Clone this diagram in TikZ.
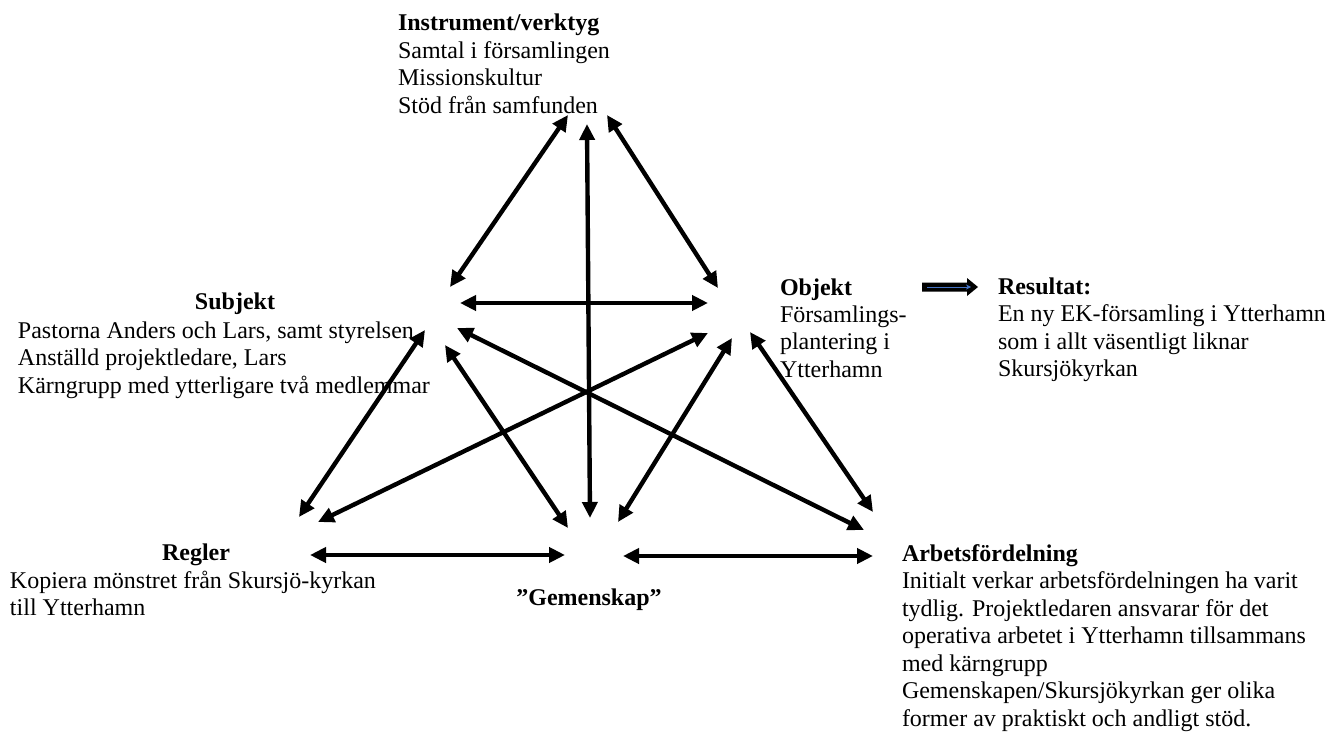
\documentclass[tikz,border=0pt]{standalone}
\usepackage{fontspec}
\setmainfont{Liberation Serif}
\usetikzlibrary{arrows.meta}
\definecolor{wordblue}{RGB}{68,114,196}
\begin{document}
\begin{tikzpicture}[x=0.5pt,y=-0.5pt,
  txt/.style={inner sep=0pt, outer sep=0pt, font=\fontsize{12}{13.75}\selectfont},
  ttl/.style={inner sep=0pt, outer sep=0pt, font=\fontsize{12}{13.75}\selectfont\bfseries},
  link/.style={line width=2.2pt, {Triangle[length=8pt,width=7.5pt]}-{Triangle[length=8pt,width=7.5pt]}}]
\useasboundingbox (0,0) rectangle (1340,733);

% Instrument
\node[ttl, anchor=base west] (inst) at (398,31) {Instrument/verktyg};
\node[txt, anchor=base west] (inst1) at (398,58.5) {Samtal i församlingen};
\node[txt, anchor=base west] (inst2) at (398,86) {Missionskultur};
\node[txt, anchor=base west] (inst3) at (398,113.5) {Stöd från samfunden};

% Subjekt
\node[ttl, anchor=base] (subj) at (235,309) {Subjekt};
\node[txt, anchor=base west] (subj1) at (18,338) {Pastorna Anders och Lars, samt styrelsen};
\node[txt, anchor=base west] (subj2) at (18,365.5) {Anställd projektledare, Lars};
\node[txt, anchor=base west] (subj3) at (18,393) {Kärngrupp med ytterligare två medlemmar};

% Objekt
\node[ttl, anchor=base west] (obj) at (780,295) {Objekt};
\node[txt, anchor=base west] (obj1) at (780,322.5) {Församlings-};
\node[txt, anchor=base west] (obj2) at (780,350) {plantering i};
\node[txt, anchor=base west] (obj3) at (780,377.5) {Ytterhamn};

% Resultat
\node[ttl, anchor=base west] (res) at (998,294) {Resultat:};
\node[txt, anchor=base west] (res1) at (998,321.5) {En ny EK-församling i Ytterhamn};
\node[txt, anchor=base west] (res2) at (998,349) {som i allt väsentligt liknar};
\node[txt, anchor=base west] (res3) at (998,376.5) {Skursjökyrkan};

% Regler
\node[ttl, anchor=base] (regl) at (196,560) {Regler};
\node[txt, anchor=base west] (regl1) at (10,588) {Kopiera mönstret från Skursjö-kyrkan};
\node[txt, anchor=base west] (regl2) at (10,615.5) {till Ytterhamn};

% Gemenskap
\node[ttl, anchor=base] (gem) at (589,605) {”Gemenskap”};

% Arbetsfordelning
\node[ttl, anchor=base west] (arb) at (902,561) {Arbetsfördelning};
\node[txt, anchor=base west] (arb1) at (902,588.5) {Initialt verkar arbetsfördelningen ha varit};
\node[txt, anchor=base west] (arb2) at (902,616) {tydlig. Projektledaren ansvarar för det};
\node[txt, anchor=base west] (arb3) at (902,643.5) {operativa arbetet i Ytterhamn tillsammans};
\node[txt, anchor=base west] (arb4) at (902,671) {med kärngrupp};
\node[txt, anchor=base west] (arb5) at (902,698.5) {Gemenskapen/Skursjökyrkan ger olika};
\node[txt, anchor=base west] (arb6) at (902,726) {former av praktiskt och andligt stöd.};

% connector end points
\coordinate (iS) at (568,115);  \coordinate (sI) at (450,287);
\coordinate (iO) at (607,115);  \coordinate (oI) at (718,288);
\coordinate (iG) at (587,124);  \coordinate (gI) at (590,518);
\coordinate (sO) at (460,303);  \coordinate (oS) at (708,303);
\coordinate (sR) at (425,330);  \coordinate (rS) at (299,517);
\coordinate (sA) at (457,328);  \coordinate (aS) at (864,530);
\coordinate (sG) at (445,345);  \coordinate (gS) at (568,528);
\coordinate (rO) at (318,522);  \coordinate (oR) at (708,333);
\coordinate (gO) at (618,522);  \coordinate (oG) at (732,338);
\coordinate (oA) at (750,332);  \coordinate (aO) at (873,512);
\coordinate (rG) at (310,555);  \coordinate (gR) at (565,555);
\coordinate (gA) at (623,556);  \coordinate (aG) at (873,556);

\draw[link] (iS) -- (sI);
\draw[link] (iO) -- (oI);
\draw[link] (iG) -- (gI);
\draw[link] (sO) -- (oS);
\draw[link] (sR) -- (rS);
\draw[link] (sA) -- (aS);
\draw[link] (sG) -- (gS);
\draw[link] (rO) -- (oR);
\draw[link] (gO) -- (oG);
\draw[link] (oA) -- (aO);
\draw[link] (rG) -- (gR);
\draw[link] (gA) -- (aG);

% result block arrow
\coordinate (ra) at (922,287);
\coordinate (rb) at (978,287);
\fill (ra) ++(0,-4.5) -- ++(45,0) -- ++(0,-4.5) -- (rb) -- ++(-11,9) -- ++(0,-4.5) -- ++(-45,0) -- cycle;
\draw[wordblue, line width=0.5pt, -{Stealth[length=2.5pt,width=2.5pt]}] (ra) ++(5,0) -- ++(44,0);
\end{tikzpicture}
\end{document}
